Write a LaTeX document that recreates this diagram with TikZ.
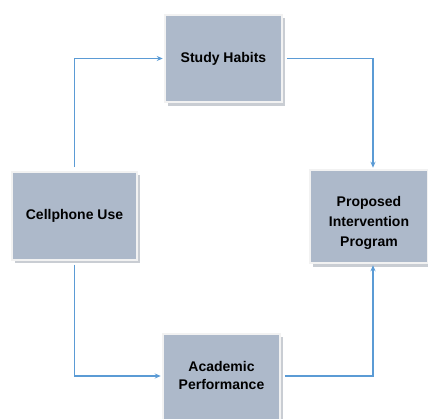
\documentclass[tikz,border=0pt]{standalone}
\usepackage{fontspec}
\setmainfont{Liberation Sans}
\usetikzlibrary{arrows.meta}
\definecolor{boxfill}{HTML}{ADB9CA}
\definecolor{boxshadow}{HTML}{C9CDD3}
\definecolor{boxedge}{HTML}{F2F2F2}
\definecolor{conncol}{HTML}{5B9BD5}
\tikzset{
  block/.style={rectangle, fill=boxfill, draw=boxedge, line width=1.5pt,
    align=center, font=\fontsize{14}{19}\selectfont\bfseries,
    inner sep=2pt},
  conn/.style={draw=conncol, line width=1.5pt, -{Stealth[length=6pt,width=5pt]},
    shorten >=1.5pt, shorten <=4pt},
}
\begin{document}
\begin{tikzpicture}[x=1pt,y=-1pt]
\useasboundingbox (0,0) rectangle (428,419);
% shadows
\fill[boxshadow] (168,18) rectangle (285,106);
\fill[boxshadow] (15,175) rectangle (140,263);
\fill[boxshadow] (313,173) rectangle (431,267);
\fill[boxshadow] (166,337) rectangle (283,423);
\node[block, minimum width=117pt, minimum height=87pt] (study) at (223.5,58.5) {Study Habits};
\node[block, minimum width=125pt, minimum height=88pt] (cell) at (74.5,216) {Cellphone Use};
\node[block, minimum width=118pt, minimum height=93pt] (prop) at (369,216.5) {\raisebox{-10.5pt}[0pt][0pt]{\parbox[c]{110pt}{\centering\baselineskip=20pt Proposed\\Intervention\\Program}}};
\node[block, minimum width=117pt, minimum height=86pt] (acad) at (221.5,377) {\raisebox{-2pt}[0pt][0pt]{\parbox[c]{110pt}{\centering\baselineskip=17.5pt Academic\\Performance}}};
\draw[conn] (cell.north) |- (study.west);
\draw[conn] (study.east) -| ([xshift=4pt]prop.north);
\draw[conn] (cell.south) |- ([yshift=1pt]acad.west);
\draw[conn] ([yshift=1pt]acad.east) -| ([xshift=4pt]prop.south);
\end{tikzpicture}
\end{document}
